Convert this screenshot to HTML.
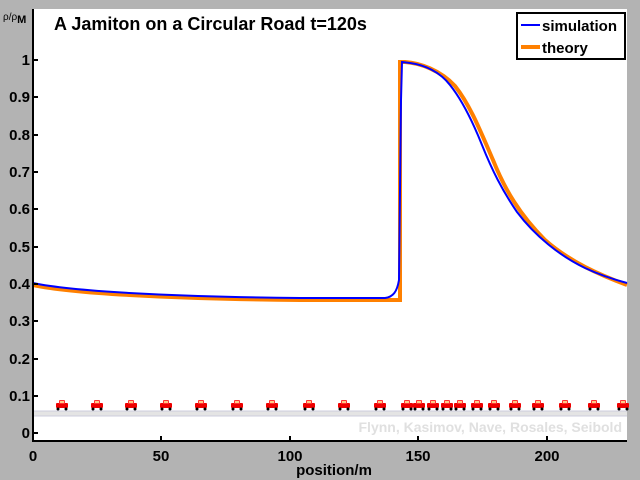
<!DOCTYPE html>
<html><head><style>
body{margin:0;background:#b3b3b3;}
svg{display:block;font-family:"Liberation Sans",sans-serif;}
</style></head><body>
<svg width="640" height="480" viewBox="0 0 640 480">
<rect x="0" y="0" width="640" height="480" fill="#b3b3b3"/>
<rect x="33" y="9" width="594" height="432" fill="#fff"/>
<rect x="33" y="411" width="594" height="5" fill="#e4e4e4"/>
<line x1="33" y1="411" x2="627" y2="411" stroke="#ccd" stroke-width="1"/>
<line x1="33" y1="416" x2="627" y2="416" stroke="#ccd" stroke-width="1"/>
<g id="cars"></g>
<text x="622" y="432" text-anchor="end" font-size="14" fill="#e0e0e0" font-weight="bold">Flynn, Kasimov, Nave, Rosales, Seibold</text>
<path d="M33,285 C80,295 200,299 300,300 L400,300 L400,62 L405,62 C420,63 440,70 455,86 C470,105 480,130 493,160 C505,190 520,215 545,240 C570,262 600,275 627,285" fill="none" stroke="#ff8000" stroke-width="4"/>
<path d="M33,283 C80,293 200,297 300,298 L385,298 C393,297 397,292 399,280 L401,100 L402,62 L410,63 C425,65 440,72 450,85 C462,100 472,120 482,145 C492,170 502,190 517,212 C535,236 560,256 585,268 C600,275 612,279 627,283" fill="none" stroke="#0000ff" stroke-width="2"/>
<line x1="33" y1="9" x2="33" y2="441" stroke="#000" stroke-width="2"/>
<line x1="32" y1="441" x2="627" y2="441" stroke="#000" stroke-width="2"/>
<g stroke="#000" stroke-width="2">
<line x1="33" y1="60" x2="38" y2="60"/><line x1="33" y1="97" x2="38" y2="97"/>
<line x1="33" y1="135" x2="38" y2="135"/><line x1="33" y1="172" x2="38" y2="172"/>
<line x1="33" y1="209" x2="38" y2="209"/><line x1="33" y1="247" x2="38" y2="247"/>
<line x1="33" y1="284" x2="38" y2="284"/><line x1="33" y1="321" x2="38" y2="321"/>
<line x1="33" y1="359" x2="38" y2="359"/><line x1="33" y1="396" x2="38" y2="396"/>
<line x1="33" y1="433" x2="38" y2="433"/>
<line x1="161" y1="441" x2="161" y2="436"/><line x1="290" y1="441" x2="290" y2="436"/>
<line x1="418" y1="441" x2="418" y2="436"/><line x1="547" y1="441" x2="547" y2="436"/>
</g>
<g font-size="15" font-weight="bold" text-anchor="end" fill="#000">
<text x="30" y="65">1</text><text x="30" y="102">0.9</text><text x="30" y="140">0.8</text>
<text x="30" y="177">0.7</text><text x="30" y="214">0.6</text><text x="30" y="252">0.5</text>
<text x="30" y="289">0.4</text><text x="30" y="326">0.3</text><text x="30" y="364">0.2</text>
<text x="30" y="401">0.1</text><text x="30" y="438">0</text>
</g>
<g font-size="15" font-weight="bold" text-anchor="middle" fill="#000">
<text x="33" y="461">0</text><text x="161" y="461">50</text><text x="290" y="461">100</text>
<text x="418" y="461">150</text><text x="547" y="461">200</text>
<text x="334" y="475">position/m</text>
</g>
<text x="3" y="20" font-size="10" fill="#000">ρ/ρ<tspan font-size="11" font-weight="bold" dy="3">M</tspan></text>
<text x="54" y="30" font-size="18" font-weight="bold" fill="#000">A  Jamiton on a Circular Road   t=120s</text>
<rect x="517" y="13" width="108" height="46" fill="#fff" stroke="#000" stroke-width="2"/>
<line x1="521" y1="25" x2="540" y2="25" stroke="#0000ff" stroke-width="2"/>
<line x1="521" y1="47" x2="540" y2="47" stroke="#ff8000" stroke-width="4"/>
<text x="542" y="31" font-size="15" font-weight="bold">simulation</text>
<text x="542" y="53" font-size="15" font-weight="bold">theory</text>
</svg>
<script>
var xs=[62,97,131,166,201,237,272,309,344,380,407,419,433,447,460,477,494,515,538,565,594,623];
var g=document.getElementById('cars'),h='';
xs.forEach(function(x){
h+='<rect x="'+(x-6)+'" y="403" width="12" height="5" rx="1" fill="#e00"/>'+
'<rect x="'+(x-3)+'" y="400" width="6" height="4" rx="1" fill="#f33"/>'+
'<rect x="'+(x-2)+'" y="401" width="4" height="2" fill="#fc8"/>'+
'<circle cx="'+(x-4)+'" cy="409" r="1.5" fill="#000"/><circle cx="'+(x+4)+'" cy="409" r="1.5" fill="#000"/>';
});
g.innerHTML=h;
</script>
</body></html>
